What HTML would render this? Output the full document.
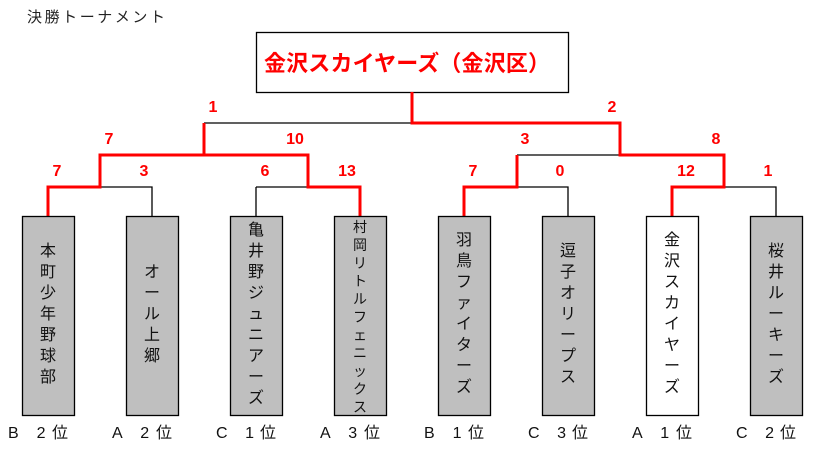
<!DOCTYPE html>
<html><head><meta charset="utf-8"><style>
html,body{margin:0;padding:0;background:#fff;}
svg{display:block;}
text{font-family:"Liberation Sans","Noto Sans CJK JP",sans-serif;}
</style></head><body>
<svg width="821" height="451" viewBox="0 0 821 451" xmlns="http://www.w3.org/2000/svg">
<text x="27" y="22" font-size="15" fill="#222" textLength="138">決勝トーナメント</text>
<rect x="256.5" y="32.5" width="312" height="60" fill="#fff" stroke="#000" stroke-width="1.3"/>
<text x="264" y="71" font-size="22" fill="#f00" font-weight="bold" textLength="286">金沢スカイヤーズ（金沢区）</text>
<g stroke="#000" stroke-width="1.3" fill="none">
<path d="M204 123H412"/>
<path d="M100 155H308M204 123V155"/>
<path d="M517 155H724"/>
<path d="M48 187H152V216M256 187H360M256 187V216M100 155V187M308 155V187"/>
<path d="M464 187H568V216M672 187H776V216M517 155V187M724 155V187"/>
</g>
<g stroke="#f00" stroke-width="3" fill="none">
<path d="M412 92V123H620V155H724V187H672V216"/>
<path d="M204 123V155H308V187H360V216"/>
<path d="M204 155H100V187H48V216"/>
<path d="M517 155V187H464V216"/>
</g>
<g font-size="16" font-weight="bold" fill="#f00" text-anchor="middle">
<text x="213" y="112">1</text><text x="612" y="112">2</text>
<text x="109" y="144">7</text><text x="295" y="144">10</text><text x="525" y="144">3</text><text x="716" y="144">8</text>
<text x="57" y="176">7</text><text x="144" y="176">3</text><text x="265" y="176">6</text><text x="347" y="176">13</text>
<text x="473" y="176">7</text><text x="560" y="176">0</text><text x="686" y="176">12</text><text x="768" y="176">1</text>
</g>
<g stroke="#000" stroke-width="1.3">
<rect x="22.5" y="216.5" width="52" height="199" fill="#bfbfbf"/>
<rect x="126.5" y="216.5" width="52" height="199" fill="#bfbfbf"/>
<rect x="230.5" y="216.5" width="52" height="199" fill="#bfbfbf"/>
<rect x="334.5" y="216.5" width="52" height="199" fill="#bfbfbf"/>
<rect x="438.5" y="216.5" width="52" height="199" fill="#bfbfbf"/>
<rect x="542.5" y="216.5" width="52" height="199" fill="#bfbfbf"/>
<rect x="646.5" y="216.5" width="52" height="199" fill="#fff"/>
<rect x="750.5" y="216.5" width="52" height="199" fill="#bfbfbf"/>
</g>
<g font-size="16" fill="#111" text-anchor="middle">
<text x="48" y="256"><tspan x="48">本</tspan><tspan x="48" dy="21">町</tspan><tspan x="48" dy="21">少</tspan><tspan x="48" dy="21">年</tspan><tspan x="48" dy="21">野</tspan><tspan x="48" dy="21">球</tspan><tspan x="48" dy="21">部</tspan></text>
<text x="152" y="277"><tspan x="152">オ</tspan><tspan x="152" dy="21">ー</tspan><tspan x="152" dy="21">ル</tspan><tspan x="152" dy="21">上</tspan><tspan x="152" dy="21">郷</tspan></text>
<text x="256" y="235"><tspan x="256">亀</tspan><tspan x="256" dy="21">井</tspan><tspan x="256" dy="21">野</tspan><tspan x="256" dy="21">ジ</tspan><tspan x="256" dy="21">ュ</tspan><tspan x="256" dy="21">ニ</tspan><tspan x="256" dy="21">ア</tspan><tspan x="256" dy="21">ー</tspan><tspan x="256" dy="21">ズ</tspan></text>
<text x="464" y="245"><tspan x="464">羽</tspan><tspan x="464" dy="21">鳥</tspan><tspan x="464" dy="21">フ</tspan><tspan x="464" dy="21">ァ</tspan><tspan x="464" dy="21">イ</tspan><tspan x="464" dy="21">タ</tspan><tspan x="464" dy="21">ー</tspan><tspan x="464" dy="21">ズ</tspan></text>
<text x="568" y="256"><tspan x="568">逗</tspan><tspan x="568" dy="21">子</tspan><tspan x="568" dy="21">オ</tspan><tspan x="568" dy="21">リ</tspan><tspan x="568" dy="21">ー</tspan><tspan x="568" dy="21">プ</tspan><tspan x="568" dy="21">ス</tspan></text>
<text x="672" y="245"><tspan x="672">金</tspan><tspan x="672" dy="21">沢</tspan><tspan x="672" dy="21">ス</tspan><tspan x="672" dy="21">カ</tspan><tspan x="672" dy="21">イ</tspan><tspan x="672" dy="21">ヤ</tspan><tspan x="672" dy="21">ー</tspan><tspan x="672" dy="21">ズ</tspan></text>
<text x="776" y="256"><tspan x="776">桜</tspan><tspan x="776" dy="21">井</tspan><tspan x="776" dy="21">ル</tspan><tspan x="776" dy="21">ー</tspan><tspan x="776" dy="21">キ</tspan><tspan x="776" dy="21">ー</tspan><tspan x="776" dy="21">ズ</tspan></text>
</g>
<g font-size="14" fill="#111" text-anchor="middle">
<text x="360" y="232"><tspan x="360">村</tspan><tspan x="360" dy="18">岡</tspan><tspan x="360" dy="18">リ</tspan><tspan x="360" dy="18">ト</tspan><tspan x="360" dy="18">ル</tspan><tspan x="360" dy="18">フ</tspan><tspan x="360" dy="18">ェ</tspan><tspan x="360" dy="18">ニ</tspan><tspan x="360" dy="18">ッ</tspan><tspan x="360" dy="18">ク</tspan><tspan x="360" dy="18">ス</tspan></text>
</g>
<g font-size="16" fill="#111">
<text x="8" y="438" textLength="60">B　2 位</text>
<text x="112" y="438" textLength="60">A　2 位</text>
<text x="216" y="438" textLength="60">C　1 位</text>
<text x="320" y="438" textLength="60">A　3 位</text>
<text x="424" y="438" textLength="60">B　1 位</text>
<text x="528" y="438" textLength="60">C　3 位</text>
<text x="632" y="438" textLength="60">A　1 位</text>
<text x="736" y="438" textLength="60">C　2 位</text>
</g>
</svg>
</body></html>
